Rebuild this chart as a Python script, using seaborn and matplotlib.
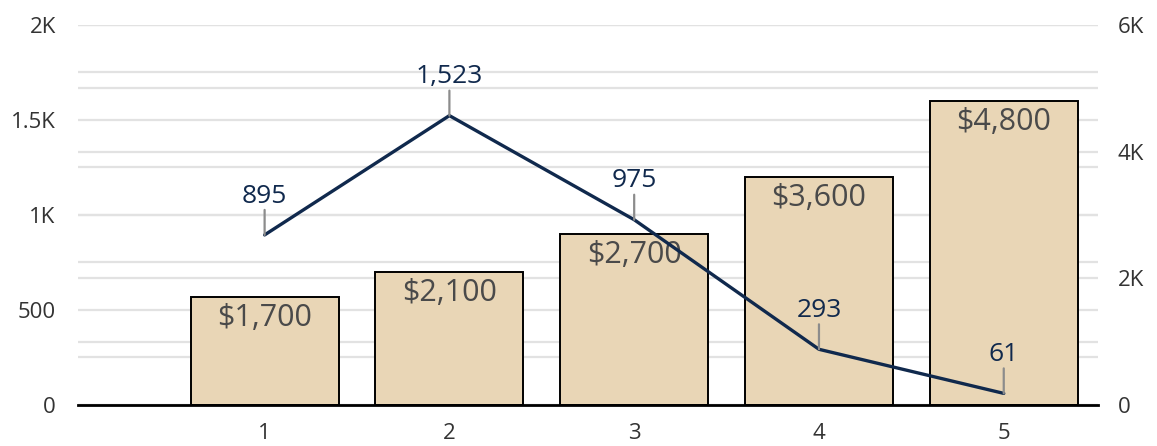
import numpy as np
import matplotlib.pyplot as plt
import seaborn as sns

# chart values
periods = [1, 2, 3, 4, 5]
revenue = [1700, 2100, 2700, 3600, 4800]   # bars, right axis
users = [895, 1523, 975, 293, 61]          # line, left axis
left_ticks = [0, 500, 1000, 1500, 2000]
left_labels = ['0', '500', '1K', '1.5K', '2K']
right_ticks = [0, 2000, 4000, 6000]
right_labels = ['0', '2K', '4K', '6K']

sns.set_style('white')
plt.rcParams['font.family'] = ['Open Sans', 'DejaVu Sans']

navy = '#10294d'
bar_color = '#e9d6b6'
tick_color = '#333333'

fig, ax_bar = plt.subplots(figsize=(11.57, 4.46), dpi=100)
fig.subplots_adjust(left=0.0674, right=0.949, top=0.944, bottom=0.092)
ax_line = ax_bar.twinx()

# gridlines: every 250 on the left scale, every 1K on the right scale
for v in np.arange(0, 2001, 250):
    ax_bar.axhline(v * 3, color='#e2e2e2', lw=1.6, zorder=0)
for v in np.arange(0, 6001, 1000):
    ax_bar.axhline(v, color='#e2e2e2', lw=1.6, zorder=0)

sns.barplot(x=periods, y=revenue, native_scale=True, color=bar_color, saturation=1,
            edgecolor='black', linewidth=1.4, width=0.8, ax=ax_bar, zorder=2)
ax_bar.set_ylim(0, 6000)
ax_bar.set_xlim(-0.01, 5.51)
ax_bar.set_xticks(periods)
ax_bar.set_xticklabels([str(p) for p in periods])
ax_bar.tick_params(axis='x', length=0, pad=13, labelsize=16, labelcolor=tick_color)

for x, v in zip(periods, revenue):
    ax_bar.annotate(f'${v:,}', xy=(x, v), xytext=(0, -4), textcoords='offset points',
                    ha='center', va='top', fontsize=22, color='#4a4a4a', zorder=3)

sns.lineplot(x=periods, y=users, color=navy, linewidth=2.4, ax=ax_line)
ax_line.set_ylim(0, 2000)
ax_line.set_xlim(-0.01, 5.51)

# bars use the right scale, the line uses the left one
ax_bar.yaxis.tick_right()
ax_bar.yaxis.set_label_position('right')
ax_bar.set_yticks(right_ticks)
ax_bar.set_yticklabels(right_labels)
ax_bar.tick_params(axis='y', which='both', left=False, labelleft=False,
                   right=False, labelright=True, length=0, pad=14,
                   labelsize=16, labelcolor=tick_color)
ax_line.yaxis.tick_left()
ax_line.set_yticks(left_ticks)
ax_line.set_yticklabels(left_labels)
ax_line.tick_params(axis='y', which='both', right=False, labelright=False,
                    left=False, labelleft=True, length=0, pad=16,
                    labelsize=16, labelcolor=tick_color)

for x, v in zip(periods, users):
    ax_line.annotate('', xy=(x, v), xytext=(0, 18), textcoords='offset points',
                     arrowprops=dict(arrowstyle='-', color='#8c8c8c', lw=1.6,
                                     shrinkA=0, shrinkB=0))
    ax_line.annotate(f'{v:,}', xy=(x, v), xytext=(0, 19), textcoords='offset points',
                     ha='center', va='bottom', fontsize=19, color=navy)

for a in (ax_bar, ax_line):
    for s in ['top', 'left', 'right']:
        a.spines[s].set_visible(False)
    a.set_xlabel('')
    a.set_ylabel('')
ax_bar.spines['bottom'].set_color('black')
ax_bar.spines['bottom'].set_linewidth(2)
ax_line.spines['bottom'].set_visible(False)
ax_bar.spines['bottom'].set_zorder(4)

fig.savefig('out.png', dpi=100)
